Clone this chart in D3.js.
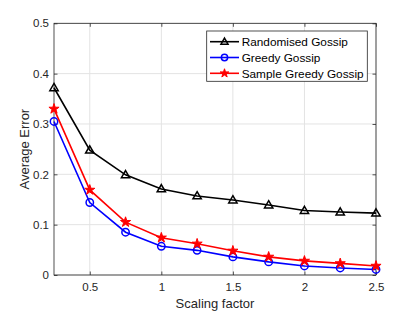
<!DOCTYPE html>
<html><head><meta charset="utf-8">
<script src="https://cdn.jsdelivr.net/npm/d3@7"></script>
<style>body{margin:0;background:#fff}svg{display:block}text{font-family:"Liberation Sans",Arial,sans-serif}</style>
</head><body><svg id="c" width="415" height="312"></svg>
<script>
const xValues = [0.25,0.5,0.75,1.0,1.25,1.5,1.75,2.0,2.25,2.5];
const randomised = [0.372,0.248,0.199,0.171,0.157,0.149,0.139,0.128,0.125,0.123];
const greedy = [0.305,0.144,0.085,0.057,0.049,0.036,0.026,0.018,0.014,0.011];
const sampleGreedy = [0.330,0.169,0.105,0.074,0.062,0.048,0.036,0.028,0.023,0.018];
const seriesNames = ["Randomised Gossip","Greedy Gossip","Sample Greedy Gossip"];
const xTicks = [0.5,1,1.5,2,2.5];
const yTicks = [0,0.1,0.2,0.3,0.4,0.5];

const svg = d3.select("#c");
const L=54, R=376, T=23.3, B=275;
const x = d3.scaleLinear().domain([0.25,2.5]).range([L,R]);
const y = d3.scaleLinear().domain([0,0.5]).range([B,T]);
const axisCol="#262626";

// grid
const g = svg.append("g");
g.selectAll(".gx").data(xTicks).join("line").attr("x1",d=>x(d)).attr("x2",d=>x(d)).attr("y1",T).attr("y2",B).attr("stroke","#e3e3e3").attr("stroke-width",1);
g.selectAll(".gy").data(yTicks).join("line").attr("y1",d=>y(d)).attr("y2",d=>y(d)).attr("x1",L).attr("x2",R).attr("stroke","#e3e3e3").attr("stroke-width",1);

// axes
function styleAxis(sel){
  sel.select(".domain").remove();
  sel.selectAll(".tick line").attr("stroke",axisCol).attr("stroke-width",0.8);
  sel.selectAll(".tick text").attr("fill",axisCol).style("font-size","11.5px").style("font-family","'Liberation Sans',Arial,sans-serif");
}
svg.append("g").attr("transform",`translate(0,${B})`).call(d3.axisBottom(x).tickValues(xTicks).tickFormat(d3.format("")).tickSizeInner(-3.5).tickPadding(8)).call(styleAxis);
svg.append("g").attr("transform",`translate(0,${T})`).call(d3.axisTop(x).tickValues(xTicks).tickFormat("").tickSizeInner(-3.5)).call(styleAxis);
svg.append("g").attr("transform",`translate(${L},0)`).call(d3.axisLeft(y).tickValues(yTicks).tickFormat(d3.format("")).tickSizeInner(-3.5).tickPadding(5)).call(styleAxis);
svg.append("g").attr("transform",`translate(${R},0)`).call(d3.axisRight(y).tickValues(yTicks).tickFormat("").tickSizeInner(-3.5)).call(styleAxis);
svg.append("rect").attr("x",L).attr("y",T).attr("width",R-L).attr("height",B-T).attr("fill","none").attr("stroke",axisCol).attr("stroke-width",0.8);

// axis titles
svg.append("text").attr("x",(L+R)/2).attr("y",307.5).attr("text-anchor","middle").attr("fill",axisCol).style("font-size","13px").text("Scaling factor");
svg.append("text").attr("transform",`translate(29,${(T+B)/2}) rotate(-90)`).attr("text-anchor","middle").attr("fill",axisCol).style("font-size","13px").text("Average Error");

// series
const series = [
  {name:seriesNames[0], vals:randomised, color:"#000000", marker:"tri"},
  {name:seriesNames[1], vals:greedy, color:"#0000ff", marker:"circ"},
  {name:seriesNames[2], vals:sampleGreedy, color:"#ff0000", marker:"star"}
];
const line = d3.line().x(d=>x(d[0])).y(d=>y(d[1]));
function drawMarker(sel, type, color, cx, cy, k){
  if(type==="tri"){
    sel.append("path").attr("d",d3.symbol(d3.symbolTriangle,30*k*k)()).attr("transform",`translate(${cx},${cy+0.5})`).attr("fill","none").attr("stroke",color).attr("stroke-width",1.5);
  } else if(type==="circ"){
    sel.append("circle").attr("cx",cx).attr("cy",cy).attr("r",3.7*k).attr("fill","none").attr("stroke",color).attr("stroke-width",1.5);
  } else {
    sel.append("path").attr("d",d3.symbol(d3.symbolStar,32*k*k)()).attr("transform",`translate(${cx},${cy})`).attr("fill",color).attr("stroke",color).attr("stroke-width",1);
  }
}
series.forEach(s=>{
  const pts = xValues.map((xv,i)=>[xv,s.vals[i]]);
  svg.append("path").datum(pts).attr("d",line).attr("fill","none").attr("stroke",s.color).attr("stroke-width",1.6);
  const mg = svg.append("g");
  pts.forEach(p=>drawMarker(mg,s.marker,s.color,x(p[0]),y(p[1]),1));
});

// legend
const lg = svg.append("g");
lg.append("rect").attr("x",206.7).attr("y",31).attr("width",160.6).attr("height",50.3).attr("fill","#fff").attr("stroke",axisCol).attr("stroke-width",0.8);
series.forEach((s,i)=>{
  const yy = 41.7 + i*15.8;
  lg.append("line").attr("x1",210).attr("x2",239).attr("y1",yy).attr("y2",yy).attr("stroke",s.color).attr("stroke-width",1.6);
  drawMarker(lg,s.marker,s.color,224.5,yy,0.85);
  lg.append("text").attr("x",241.7).attr("y",yy+4.2).attr("fill","#000").style("font-size","11.8px").text(s.name);
});
</script></body></html>
